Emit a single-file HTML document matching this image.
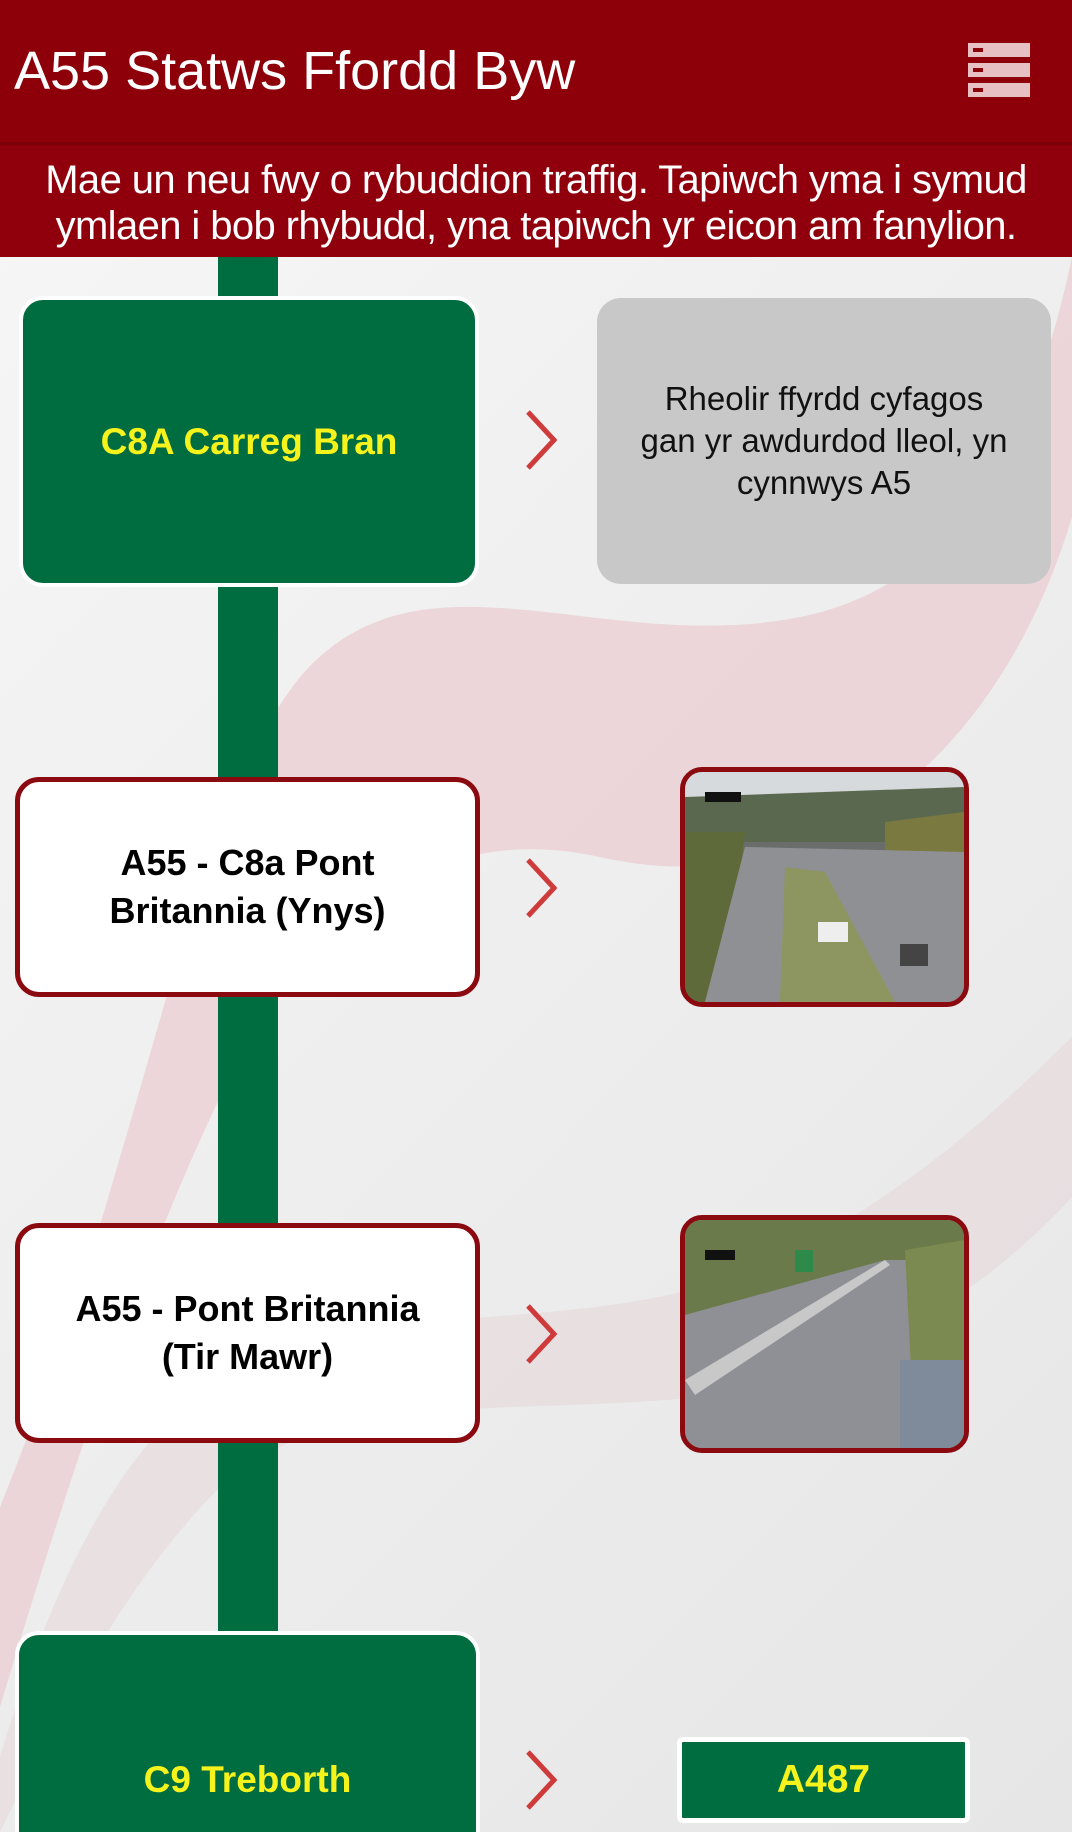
<!DOCTYPE html>
<html style="background:#ececec"><head><meta charset="utf-8">
<style>
*{margin:0;padding:0;box-sizing:border-box}
html,body{width:1072px;height:1832px;overflow:hidden}
body{position:relative;font-family:"Liberation Sans",sans-serif;background:linear-gradient(135deg,#f7f7f7 0%,#eeeeee 50%,#e6e6e6 100%)}
.abs{position:absolute}
.hdr{left:0;top:0;width:1072px;height:142px;background:#8d0009}
.title{left:14px;top:40px;color:#fff;font-size:54px;line-height:62px}
.sub{left:0;top:142px;width:1072px;height:115px;background:#8f000c;border-top:3px solid #7a0008;color:#fff;font-size:40px;line-height:46px;text-align:center;padding-top:12px;white-space:nowrap;letter-spacing:-0.6px}
.bar{left:218px;top:257px;width:60px;height:1375px;background:#006d40}
.box{display:flex;align-items:center;justify-content:center;text-align:center;border-radius:24px}
.green{background:#006d40;border:4px solid #fff;color:#f5f21c;font-weight:bold;font-size:37px}
.white{background:#fff;border:5px solid #8b0a10;color:#000;font-weight:bold;font-size:36px;line-height:48px}
.grey{background:#c8c8c8;color:#111;font-size:33px;line-height:42px}
.chev{width:40px;height:64px}
.cam{border:5px solid #8b0a10;border-radius:22px;overflow:hidden;background:#888}
</style></head><body>
<svg class="abs" style="left:0;top:257px" width="1072" height="1575">
<path d="M1072 0 C1030 200 950 330 800 360 C600 400 420 280 300 420 C220 520 180 700 120 900 C80 1040 40 1150 0 1250 L0 1450 C60 1250 140 1000 230 820 C300 680 420 560 600 600 C820 650 1000 500 1072 260 Z" fill="#e9c5cb" opacity="0.6"/>
<path d="M0 1500 C60 1300 140 1150 260 1100 C420 1040 620 1080 780 1000 C920 930 1010 840 1072 780 L1072 940 C980 1040 850 1120 700 1140 C500 1160 330 1130 220 1230 C130 1320 60 1450 0 1575 Z" fill="#e3d3d6" opacity="0.5"/>
</svg>
<div class="abs hdr"></div>
<div class="abs title">A55 Statws Ffordd Byw</div>
<svg class="abs" style="left:968px;top:43px" width="64" height="56">
<rect x="0" y="0" width="62" height="14" fill="#e7c0c3"/><rect x="0" y="20" width="62" height="14" fill="#e7c0c3"/><rect x="0" y="40" width="62" height="14" fill="#e7c0c3"/>
<rect x="5" y="5" width="10" height="4" fill="#8d0009"/><rect x="5" y="25" width="10" height="4" fill="#8d0009"/><rect x="5" y="45" width="10" height="4" fill="#8d0009"/>
</svg>
<div class="abs sub">Mae un neu fwy o rybuddion traffig. Tapiwch yma i symud<br>ymlaen i bob rhybudd, yna tapiwch yr eicon am fanylion.</div>
<div class="abs bar"></div>

<div class="abs box green" style="left:19px;top:296px;width:460px;height:291px">C8A Carreg Bran</div>
<svg class="abs chev" style="left:522px;top:408px"><polyline points="6,4 32,32 6,60" fill="none" stroke="#cf3a3a" stroke-width="5"/></svg>
<div class="abs box grey" style="left:597px;top:298px;width:454px;height:286px">Rheolir ffyrdd cyfagos<br>gan yr awdurdod lleol, yn<br>cynnwys A5</div>

<div class="abs box white" style="left:15px;top:777px;width:465px;height:220px">A55 - C8a Pont<br>Britannia (Ynys)</div>
<svg class="abs chev" style="left:522px;top:856px"><polyline points="6,4 32,32 6,60" fill="none" stroke="#cf3a3a" stroke-width="5"/></svg>
<div class="abs cam" style="left:680px;top:767px;width:289px;height:240px">
<svg width="279" height="230">
<rect width="279" height="230" fill="#6a6e6a"/>
<rect width="279" height="25" fill="#d6dadc"/>
<path d="M0 25 L279 15 L279 70 L0 70Z" fill="#5b6850"/>
<path d="M0 60 L60 60 L40 230 L0 230Z" fill="#5e6a3a"/>
<path d="M200 50 L279 40 L279 90 L200 80Z" fill="#7a7a40"/>
<path d="M60 75 L279 80 L279 230 L20 230Z" fill="#8f9094"/>
<path d="M100 95 L140 100 L210 230 L95 230Z" fill="#8d9660"/>
<rect x="133" y="150" width="30" height="20" fill="#eee"/>
<rect x="20" y="20" width="36" height="10" fill="#111"/>
<rect x="215" y="172" width="28" height="22" fill="#444"/>
</svg></div>

<div class="abs box white" style="left:15px;top:1223px;width:465px;height:220px">A55 - Pont Britannia<br>(Tir Mawr)</div>
<svg class="abs chev" style="left:522px;top:1302px"><polyline points="6,4 32,32 6,60" fill="none" stroke="#cf3a3a" stroke-width="5"/></svg>
<div class="abs cam" style="left:680px;top:1215px;width:289px;height:238px">
<svg width="279" height="228">
<rect width="279" height="228" fill="#8e9095"/>
<path d="M0 0 L279 0 L279 40 L200 40 L0 95Z" fill="#6b7a4a"/>
<path d="M220 30 L279 20 L279 228 L230 228Z" fill="#7b8a50"/>
<rect x="215" y="140" width="64" height="88" fill="#7f8a9a"/>
<path d="M0 160 L200 40 L205 45 L10 175Z" fill="#c8c8c8"/>
<rect x="110" y="30" width="18" height="22" fill="#2d8a4a"/>
<rect x="20" y="30" width="30" height="10" fill="#111"/>
</svg></div>

<div class="abs box green" style="left:15px;top:1631px;width:465px;height:240px;align-items:flex-start;padding-top:124px">C9 Treborth</div>
<svg class="abs chev" style="left:522px;top:1748px"><polyline points="6,4 32,32 6,60" fill="none" stroke="#cf3a3a" stroke-width="5"/></svg>
<div class="abs box green" style="left:677px;top:1737px;width:293px;height:86px;border-radius:6px;border-width:5px;font-size:39px">A487</div>
</body></html>
